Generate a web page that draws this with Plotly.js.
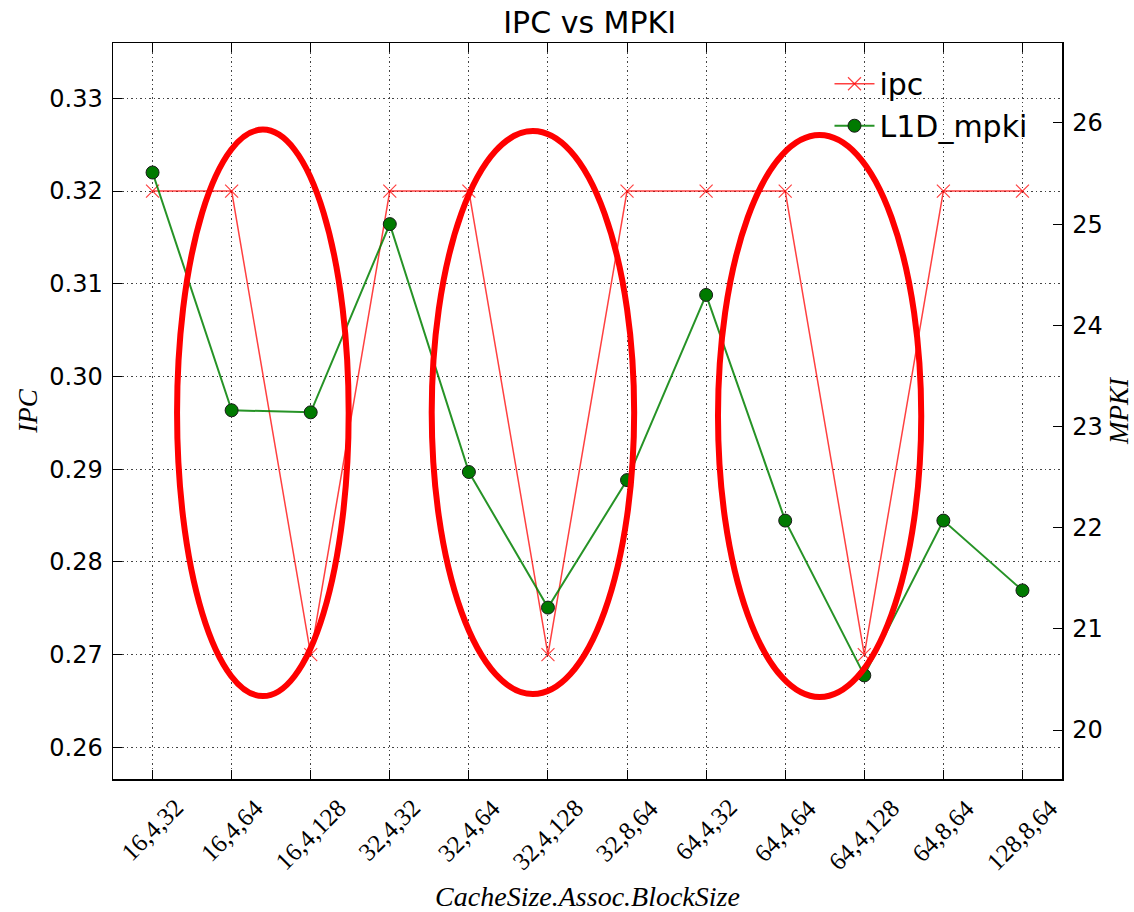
<!DOCTYPE html>
<html>
<head>
<meta charset="utf-8">
<script src="https://cdn.plot.ly/plotly-3.0.1.min.js"></script>
<style>html,body{margin:0;padding:0;background:#fff;}#chart{width:1134px;height:912px;}</style>
</head>
<body>
<div id="chart"></div>
<script>
// ---- data ----
const categories = ['16,4,32','16,4,64','16,4,128','32,4,32','32,4,64','32,4,128','32,8,64','64,4,32','64,4,64','64,4,128','64,8,64','128,8,64'];
const ipc  = [0.32, 0.32, 0.27, 0.32, 0.32, 0.27, 0.32, 0.32, 0.32, 0.27, 0.32, 0.32];
const mpki = [25.51, 23.16, 23.14, 25.00, 22.55, 21.21, 22.47, 24.30, 22.07, 20.54, 22.07, 21.38];
const ipcTicks  = [0.26, 0.27, 0.28, 0.29, 0.30, 0.31, 0.32, 0.33];
const mpkiTicks = [20, 21, 22, 23, 24, 25, 26];
// hand-drawn highlight ellipses (category index / IPC units)
const ellipseX0 = [0.31, 3.53, 7.15];
const ellipseX1 = [2.48, 6.09, 9.72];
const ellipseY0 = [0.26552, 0.26574, 0.26542];
const ellipseY1 = [0.32663, 0.32647, 0.32604];

const sansFont = 'DejaVu Sans, sans-serif';
const serifFont = 'Liberation Serif, DejaVu Serif, serif';

const traces = [
  {
    x: categories, y: ipc, name: 'ipc', type: 'scatter', mode: 'lines+markers',
    line: {color: 'rgba(255,0,0,0.75)', width: 1.5},
    marker: {symbol: 'x-thin-open', size: 13, color: 'rgba(255,0,0,0.75)', line: {color: 'rgba(255,0,0,0.75)', width: 1.2}},
    yaxis: 'y'
  },
  {
    x: categories, y: mpki, name: 'L1D_mpki', type: 'scatter', mode: 'lines+markers',
    line: {color: 'rgba(0,128,0,0.85)', width: 2},
    marker: {symbol: 'circle', size: 13, color: '#007a00', line: {color: '#1a1a1a', width: 1}},
    yaxis: 'y2'
  }
];

const shapes = ellipseX0.map((x0, i) => ({
  type: 'circle', xref: 'x', yref: 'y', layer: 'above',
  x0: x0, x1: ellipseX1[i], y0: ellipseY0[i], y1: ellipseY1[i],
  line: {color: '#ff0000', width: 6}
}));

const annotations = categories.map(c => ({
  x: c, xref: 'x', y: 0, yref: 'paper', yshift: -12,
  text: c, showarrow: false, textangle: -45,
  xanchor: 'center', yanchor: 'top',
  font: {family: serifFont, size: 25, color: '#000'}
}));

const layout = {
  width: 1134, height: 912,
  margin: {l: 113, r: 72, t: 43, b: 133},
  paper_bgcolor: '#fff', plot_bgcolor: '#fff',
  showlegend: true,
  title: {text: 'IPC vs MPKI', font: {family: sansFont, size: 30, color: '#000'},
          x: 0.52, xanchor: 'center', yref: 'container', y: 0.975, yanchor: 'middle'},
  xaxis: {
    type: 'category', range: [-0.5, 11.5],
    showticklabels: false,
    ticks: 'inside', ticklen: 9, tickwidth: 1, tickcolor: '#000',
    showline: true, linecolor: '#000', linewidth: 1.5, mirror: 'ticks',
    showgrid: true, gridcolor: '#444', griddash: '1.5px,3px', gridwidth: 1,
    zeroline: false,
    title: {text: 'CacheSize.Assoc.BlockSize', standoff: 109,
            font: {family: serifFont, size: 28, color: '#000', style: 'italic'}},
    automargin: false
  },
  yaxis: {
    range: [0.25658, 0.33597], tickvals: ipcTicks, ticktext: ipcTicks.map(v => v.toFixed(2)),
    ticks: 'inside', ticklen: 9, tickwidth: 1, tickcolor: '#000',
    tickfont: {family: sansFont, size: 24, color: '#000'},
    ticklabelstandoff: 4,
    showline: true, linecolor: '#000', linewidth: 1.5,
    showgrid: true, gridcolor: '#444', griddash: '1.5px,3px', gridwidth: 1,
    zeroline: false,
    title: {text: 'IPC', standoff: 4, font: {family: serifFont, size: 27, color: '#000', style: 'italic'}},
    automargin: false
  },
  yaxis2: {
    overlaying: 'y', side: 'right',
    range: [19.516, 26.79], tickvals: mpkiTicks,
    ticks: 'inside', ticklen: 9, tickwidth: 1, tickcolor: '#000',
    tickfont: {family: sansFont, size: 24, color: '#000'},
    ticklabelstandoff: 4,
    showline: true, linecolor: '#000', linewidth: 1.5,
    showgrid: false, zeroline: false,
    title: {text: 'MPKI', standoff: 12, font: {family: serifFont, size: 27, color: '#000', style: 'italic'}},
    automargin: false
  },
  legend: {
    x: 0.755, xanchor: 'left', y: 0.98, yanchor: 'top',
    bgcolor: 'rgba(0,0,0,0)', borderwidth: 0,
    font: {family: sansFont, size: 30, color: '#000'},
    itemwidth: 40, tracegroupgap: 6
  },
  shapes: shapes,
  annotations: annotations
};

Plotly.newPlot('chart', traces, layout, {displayModeBar: false, staticPlot: true});
</script>
</body>
</html>
